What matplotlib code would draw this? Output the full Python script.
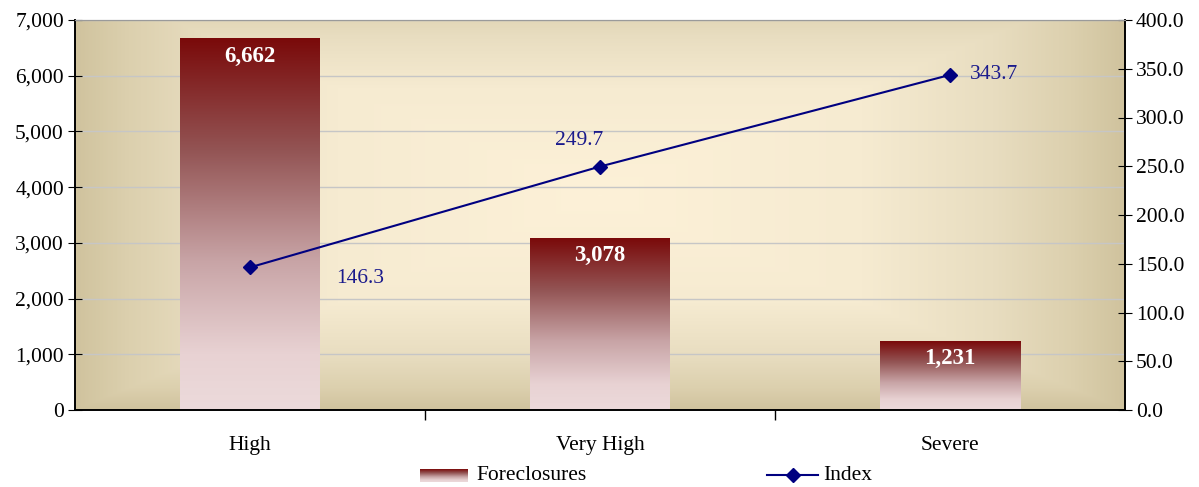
import matplotlib.pyplot as plt
import numpy as np
from matplotlib.colors import LinearSegmentedColormap
from matplotlib.lines import Line2D
from matplotlib.ticker import FuncFormatter, MultipleLocator

plt.rcParams['font.family'] = ['Liberation Serif', 'DejaVu Serif']

categories = ["High", "Very High", "Severe"]
foreclosures = [6662, 3078, 1231]
index_vals = [146.3, 249.7, 343.7]

fig = plt.figure(figsize=(11.99, 4.87), dpi=100)
ax = fig.add_axes([75 / 1199, 1 - 410 / 487, 1050 / 1199, 390 / 487])
ax2 = ax.twinx()

# background: rectangular "from center" gradient
bg = LinearSegmentedColormap.from_list(
    "bg", [(0, "#fdf1d8"), (0.5, "#f6ebd1"), (0.75, "#e8ddc0"), (0.9, "#dcd0ae"), (1, "#d0c39e")])
yy, xx = np.mgrid[-1:1:400j, -1:1:800j]
d = np.maximum(np.abs(xx), np.abs(yy + 0.1) / 1.1)
ax.imshow(np.clip(d, 0, 1), cmap=bg, vmin=0, vmax=1, extent=(0, 1, 0, 1),
          transform=ax.transAxes, aspect="auto", zorder=0, origin="upper")

ax.set_xlim(-0.5, 2.5)
ax.set_ylim(0, 7000)
ax2.set_ylim(0, 400)

# bars with vertical gradient
barcm = LinearSegmentedColormap.from_list(
    "bar", [(0, "#7a0a0a"), (0.3, "#935454"), (0.6, "#c8a4a6"), (0.85, "#e8d2d3"), (1, "#ecdadb")])
grad = np.linspace(0, 1, 256).reshape(-1, 1)
w = 0.4
for i, v in enumerate(foreclosures):
    ax.imshow(grad, cmap=barcm, extent=(i - w / 2, i + w / 2, 0, v), aspect="auto",
              zorder=2, origin="upper")
    ax.text(i, v - 120, f"{v:,}", ha="center", va="top", color="white",
            fontsize=16.5, fontweight="bold", zorder=3)
ax.set_aspect("auto")

ax.yaxis.set_major_locator(MultipleLocator(1000))
ax.yaxis.set_major_formatter(FuncFormatter(lambda v, p: f"{v:,.0f}"))
ax.grid(axis="y", color="#c6c6c6", linewidth=1, zorder=1)
ax.set_axisbelow(True)

x = np.arange(len(categories))
ax2.plot(x, index_vals, color="#000080", linewidth=1.5, marker="D", markersize=7, zorder=5)
offsets = [(79, -8), (-15, 19), (32, 0)]
for xi, v, off in zip(x, index_vals, offsets):
    ax2.annotate(f"{v:.1f}", (xi, v), xytext=off, textcoords="offset points",
                 ha="center", va="center", color="#1a1a8c", fontsize=15.5)
ax2.yaxis.set_major_locator(MultipleLocator(50))
ax2.yaxis.set_major_formatter(FuncFormatter(lambda v, p: f"{v:.1f}"))

ax.set_xticks(x)
ax.set_xticklabels(categories)
ax.set_xticks([0.5, 1.5], minor=True)
ax.tick_params(axis="x", which="major", length=0, labelsize=15.5, pad=19)
ax.tick_params(axis="x", which="minor", length=7, direction="out", width=1)
ax.tick_params(axis="y", direction="inout", length=10, labelsize=15.5, pad=3)
ax2.tick_params(axis="y", direction="inout", length=10, labelsize=15.5, pad=3)

for a in (ax, ax2):
    a.spines["top"].set_color("#9a9a9a")
    for s in ("left", "right", "bottom"):
        a.spines[s].set_color("black")
        a.spines[s].set_linewidth(1.2)

# legend
sw = fig.add_axes([420 / 1199, 1 - 482 / 487, 48 / 1199, 13 / 487])
sw.imshow(grad, cmap=barcm, aspect="auto", extent=(0, 1, 0, 1))
sw.axis("off")
fig.text(476 / 1199, 1 - 475 / 487, "Foreclosures", fontsize=15.5, va="center", ha="left")
fig.add_artist(Line2D([767 / 1199, 818 / 1199], [1 - 475 / 487, 1 - 475 / 487],
                      transform=fig.transFigure, color="#000080", linewidth=1.5))
fig.add_artist(Line2D([792.5 / 1199], [1 - 475 / 487], transform=fig.transFigure,
                      color="#000080", marker="D", markersize=7))
fig.text(823 / 1199, 1 - 475 / 487, "Index", fontsize=15.5, va="center", ha="left")

fig.savefig("out.png", dpi=100)
